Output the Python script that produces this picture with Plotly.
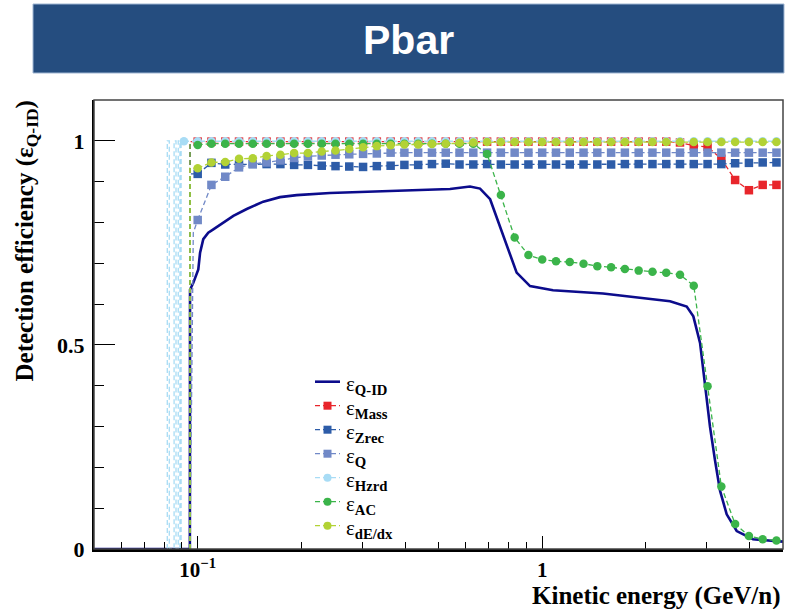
import plotly.graph_objects as go

# ---------------- data ----------------
# Kinetic energy grid of the marker series (GeV/n)
energy_grid = [0.1000, 0.1096, 0.1202, 0.1318, 0.1445, 0.1585, 0.1738, 0.1905, 0.2089, 0.2291,
               0.2512, 0.2754, 0.3020, 0.3311, 0.3631, 0.3981, 0.4365, 0.4786, 0.5248, 0.5754,
               0.6310, 0.6918, 0.7586, 0.8318, 0.9120, 1.0000, 1.0965, 1.2023, 1.3183, 1.4454,
               1.5849, 1.7378, 1.9055, 2.0893, 2.2909, 2.5119, 2.7542, 3.0200, 3.3113, 3.6308,
               3.9811, 4.3652, 4.7863]

eff_mass = [0.998] * 35 + [0.996, 0.988, 0.985, 0.956, 0.904, 0.879, 0.892, 0.892]

eff_zrec = [0.919, 0.946, 0.942, 0.942, 0.943, 0.943, 0.943, 0.941, 0.941, 0.939,
            0.938, 0.937, 0.936, 0.938, 0.939, 0.941, 0.941, 0.943, 0.944, 0.942,
            0.942, 0.943, 0.942, 0.942, 0.942, 0.942, 0.942, 0.942, 0.942, 0.942,
            0.942, 0.943, 0.943, 0.943, 0.943, 0.943, 0.943, 0.943, 0.943, 0.945,
            0.946, 0.947, 0.947]

eff_q = [0.806, 0.892, 0.912, 0.935, 0.943, 0.947, 0.952, 0.958, 0.962, 0.964,
         0.966, 0.967, 0.968, 0.969] + [0.971] * 29

eff_ac = [0.990] + [0.993] * 20 + [0.968, 0.867, 0.763, 0.720, 0.709, 0.705, 0.703, 0.699,
                                   0.693, 0.690, 0.686, 0.682, 0.679, 0.677, 0.672, 0.645,
                                   0.399, 0.153, 0.061, 0.032, 0.024, 0.021]

eff_dedx = [0.933, 0.947, 0.948, 0.956, 0.957, 0.963, 0.966, 0.970, 0.970, 0.974,
            0.976, 0.980, 0.984, 0.987, 0.989, 0.991, 0.991, 0.992, 0.993, 0.995,
            0.996] + [0.997] * 22

hzrd_energy = [0.0912] + energy_grid
eff_hzrd = [0.999] * 44

# low-energy threshold edges (lines only, no markers)
edge_energy = [0.0950, 0.0950, 0.1000]
edge_mass = [0.0, 0.998, 0.998]
edge_zrec = [0.0, 0.919, 0.919]
edge_q_energy = [0.0950, 0.0971, 0.1000]
edge_q = [0.0, 0.775, 0.806]
edge_ac = [0.0, 0.990, 0.990]
edge_dedx = [0.0, 0.933, 0.933]
hzrd_edge_energy = [0.0816, 0.0816, 0.0827, 0.0827, 0.0854, 0.0854, 0.0865, 0.0865,
                    0.0878, 0.0878, 0.0888, 0.0888, 0.0895, 0.0895, 0.0912]
hzrd_edge_eff = [0, 1, 1, 0, 0, 1, 1, 0, 0, 1, 1, 0, 0, 1, 0.999]

# Q-ID total efficiency curve
qid_energy = [0.05, 0.0949, 0.0950, 0.0971, 0.1004, 0.1016, 0.1038, 0.1073, 0.1110, 0.1187,
              0.1269, 0.1388, 0.1550, 0.1733, 0.1938, 0.2421, 0.3865, 0.540, 0.617, 0.660,
              0.706, 0.754, 0.797, 0.843, 0.922, 1.075, 1.501, 2.198, 2.350, 2.627,
              2.746, 2.872, 2.969, 3.070, 3.174, 3.282, 3.432, 3.670, 4.092, 5.0]
qid_eff = [0.0, 0.0, 0.635, 0.652, 0.685, 0.726, 0.759, 0.775, 0.783, 0.800,
           0.816, 0.833, 0.851, 0.862, 0.867, 0.872, 0.877, 0.882, 0.888, 0.883,
           0.857, 0.790, 0.734, 0.677, 0.644, 0.634, 0.626, 0.611, 0.607, 0.594,
           0.570, 0.505, 0.406, 0.299, 0.217, 0.143, 0.085, 0.044, 0.024, 0.018]

x_tick_vals = [0.1, 1]
x_tick_text = ["<b>10<sup>−1</sup></b>", "<b>1</b>"]
x_minor_vals = [0.06, 0.07, 0.08, 0.09, 0.2, 0.3, 0.4, 0.5, 0.6, 0.7, 0.8, 0.9, 2, 3, 4]
y_tick_vals = [0, 0.5, 1]
y_tick_text = ["<b>0</b>", "<b>0.5</b>", "<b>1</b>"]
y_minor_vals = [0.1, 0.2, 0.3, 0.4, 0.6, 0.7, 0.8, 0.9]

legend_labels = ["Q-ID", "Mass", "Zrec", "Q", "Hzrd", "AC", "dE/dx"]

# ---------------- styles ----------------
C_QID = "#0c0c8c"
C_MASS = "#e8252b"
C_ZREC = "#2d5ca8"
C_Q = "#7189c7"
C_HZRD = "#a8dcf5"
C_AC = "#3bb44a"
C_DEDX = "#b2d235"
DASH = "5px,3px"
SERIF = "Liberation Serif"

W, H = 785, 609
ML, MR, MT, MB = 94, 2, 100, 60
PW, PH = W - ML - MR, H - MT - MB


def px_x(px):
    return (px - ML) / PW


def px_y(py):
    return (H - MB - py) / PH


fig = go.Figure()

fig.add_trace(go.Scatter(x=qid_energy, y=qid_eff, mode="lines",
                         line=dict(color=C_QID, width=2.6), showlegend=False))

series = [
    (edge_energy, edge_mass, energy_grid, eff_mass, C_MASS, "square"),
    (edge_energy, edge_zrec, energy_grid, eff_zrec, C_ZREC, "square"),
    (edge_q_energy, edge_q, energy_grid, eff_q, C_Q, "square"),
    (hzrd_edge_energy, hzrd_edge_eff, hzrd_energy, eff_hzrd, C_HZRD, "circle"),
    (edge_energy, edge_ac, energy_grid, eff_ac, C_AC, "circle"),
    (edge_energy, edge_dedx, energy_grid, eff_dedx, C_DEDX, "circle"),
]
for ex, ey, x, y, color, symbol in series:
    fig.add_trace(go.Scatter(x=ex, y=ey, mode="lines", showlegend=False,
                             line=dict(color=color, width=1.3, dash=DASH), hoverinfo="skip"))
    fig.add_trace(go.Scatter(x=x, y=y, mode="lines+markers", showlegend=False,
                             line=dict(color=color, width=1.3, dash=DASH),
                             marker=dict(color=color, symbol=symbol, size=8.5, line=dict(width=0))))

# ---------------- frame, banner, titles ----------------
shapes = [
    dict(type="rect", xref="paper", yref="paper", x0=0, x1=1, y0=0, y1=1,
         line=dict(color="#444444", width=1.5), fillcolor="rgba(0,0,0,0)", layer="above"),
    dict(type="rect", xref="paper", yref="paper", x0=px_x(33), x1=px_x(784),
         y0=px_y(73), y1=px_y(4), line=dict(color="#9fb6d3", width=1),
         fillcolor="#254d7f", layer="above"),
]
annotations = [
    dict(text="<b>Pbar</b>", xref="paper", yref="paper", x=px_x(408), y=px_y(40),
         xanchor="center", yanchor="middle", showarrow=False,
         font=dict(family="Liberation Sans", size=41, color="white")),
    dict(text="<b>Kinetic energy (GeV/n)</b>", xref="paper", yref="paper",
         x=px_x(783), y=px_y(596), xanchor="right", yanchor="middle", showarrow=False,
         font=dict(family=SERIF, size=25)),
    dict(text="<b>Detection efficiency (ε<sub>Q-ID</sub>)</b>", xref="paper",
         yref="paper", x=px_x(26), y=px_y(99), xanchor="center", yanchor="top",
         textangle=-90, showarrow=False, font=dict(family=SERIF, size=25)),
]

# ---------------- custom ROOT-like legend ----------------
leg_styles = [(C_QID, None, "solid", 2.6)] + [(s[4], s[5], DASH, 1.3) for s in series]
LEG_X0, LEG_X1, LEG_TEXT = 315, 340, 344
LEG_Y0, LEG_STEP = 381.7, 24.0
for i, (label, (color, symbol, dash, lw)) in enumerate(zip(legend_labels, leg_styles)):
    yy = LEG_Y0 + i * LEG_STEP
    shapes.append(dict(type="line", xref="paper", yref="paper",
                       x0=px_x(LEG_X0), x1=px_x(LEG_X1), y0=px_y(yy), y1=px_y(yy),
                       line=dict(color=color, width=lw, dash=dash)))
    if symbol is not None:
        cx = (LEG_X0 + LEG_X1) / 2
        shapes.append(dict(type="rect" if symbol == "square" else "circle",
                           xref="paper", yref="paper",
                           x0=px_x(cx - 4), x1=px_x(cx + 4),
                           y0=px_y(yy + 4), y1=px_y(yy - 4),
                           line=dict(width=0), fillcolor=color))
    annotations.append(dict(text="ε<sub><b>%s</b></sub>" % label, xref="paper", yref="paper",
                            x=px_x(LEG_TEXT), y=px_y(yy + 3), xanchor="left",
                            yanchor="middle", showarrow=False,
                            font=dict(family=SERIF, size=21, color="black")))

fig.update_layout(
    width=W, height=H,
    margin=dict(l=ML, r=MR, t=MT, b=MB),
    paper_bgcolor="white", plot_bgcolor="white",
    font=dict(family=SERIF, color="black"),
    showlegend=False,
    xaxis=dict(type="log", range=[-1.30103, 0.69897],
               tickmode="array", tickvals=x_tick_vals, ticktext=x_tick_text,
               ticks="inside", ticklen=13, tickwidth=1.3, tickcolor="black",
               tickfont=dict(family=SERIF, size=21),
               minor=dict(tickmode="array", tickvals=x_minor_vals, ticks="inside",
                          ticklen=7, tickwidth=1.1, tickcolor="black", showgrid=False),
               showgrid=False, zeroline=False, showline=True, linecolor="black",
               linewidth=2.5, ticklabelstandoff=0),
    yaxis=dict(range=[0, 1.1],
               tickmode="array", tickvals=y_tick_vals, ticktext=y_tick_text,
               ticks="inside", ticklen=21, tickwidth=1.3, tickcolor="black",
               tickfont=dict(family=SERIF, size=22),
               minor=dict(tickmode="array", tickvals=y_minor_vals, ticks="inside",
                          ticklen=10, tickwidth=1.1, tickcolor="black", showgrid=False),
               showgrid=False, zeroline=False, showline=True, linecolor="black",
               linewidth=2, ticklabelstandoff=3),
    shapes=shapes,
    annotations=annotations,
)

fig.write_html("out.html")
